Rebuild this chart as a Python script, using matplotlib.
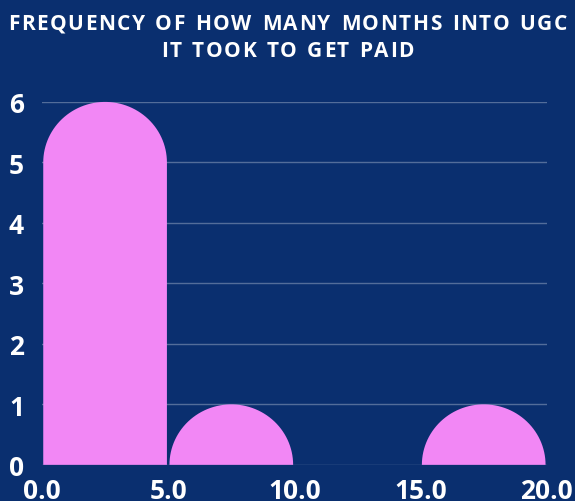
import matplotlib.pyplot as plt
from matplotlib.path import Path
from matplotlib.patches import PathPatch
import numpy as np

# histogram of months until first paid UGC job
bin_edges = [0, 5, 10, 15, 20]
counts = [6, 1, 0, 1]
y_ticks = [0, 1, 2, 3, 4, 5, 6]
x_ticks = [0.0, 5.0, 10.0, 15.0, 20.0]
title_lines = ['FREQUENCY OF HOW MANY MONTHS INTO UGC', 'IT TOOK TO GET PAID']

BG = '#0a2f6f'
PINK = '#f287f5'
FONT = 'Open Sans'


def rounded_bar(ax, x0, x1, h, cap=1.0):
    '''Bar with an elliptical cap on top'''
    if h <= 0:
        return
    ry = min(cap, h)
    rx = (x1 - x0) / 2
    xc = (x0 + x1) / 2
    base = h - ry
    t = np.linspace(0, np.pi, 60)
    verts = [(x0, 0), (x1, 0), (x1, base)]
    verts += list(zip(xc + rx * np.cos(t), base + ry * np.sin(t)))
    verts += [(x0, 0)]
    codes = [Path.MOVETO] + [Path.LINETO] * (len(verts) - 2) + [Path.CLOSEPOLY]
    ax.add_patch(PathPatch(Path(verts, codes), facecolor=PINK,
                           edgecolor='none', zorder=3, clip_on=False))


def tracked_text(fig, y, s, size, spacing):
    '''Centered text with extra letter spacing'''
    r = fig.canvas.get_renderer()
    widths = []
    for ch in s:
        t = fig.text(0, 0, ch if ch != ' ' else 'n', fontsize=size,
                     family=FONT, weight='bold')
        w = t.get_window_extent(r).width
        if ch == ' ':
            w *= 0.55
        widths.append(w)
        t.remove()
    total = sum(widths) + spacing * (len(s) - 1)
    fw = fig.bbox.width
    x = (fw - total) / 2
    for ch, w in zip(s, widths):
        if ch != ' ':
            fig.text(x / fw, y, ch, fontsize=size, family=FONT,
                     weight='bold', color='white', va='baseline')
        x += w + spacing


fig = plt.figure(figsize=(5.75, 5.02), dpi=100, facecolor=BG)
ax = fig.add_axes([0.073, 0.072, 0.878, 0.723], facecolor=BG)

gap = 0.05
for left, right, c in zip(bin_edges[:-1], bin_edges[1:], counts):
    rounded_bar(ax, left + gap, right - gap, c)

ax.set_xlim(0, 20)
ax.set_ylim(0, 6)
ax.set_yticks(y_ticks)
ax.set_xticks(x_ticks)
ax.set_xticklabels([f'{v:.1f}' for v in x_ticks])
for s in ax.spines.values():
    s.set_visible(False)
ax.grid(axis='y', color='white', alpha=0.3, linewidth=1, zorder=0)
ax.set_axisbelow(True)
ax.tick_params(length=0, colors='white', labelsize=19)
ax.tick_params(axis='y', pad=13)
ax.tick_params(axis='x', pad=9)
for lbl in ax.get_xticklabels() + ax.get_yticklabels():
    lbl.set_family(FONT)
    lbl.set_weight('bold')

tracked_text(fig, 1 - 30 / 502, title_lines[0], 15, 1.5)
tracked_text(fig, 1 - 57 / 502, title_lines[1], 15, 1.5)

fig.savefig('out.png', dpi=100, facecolor=BG)
